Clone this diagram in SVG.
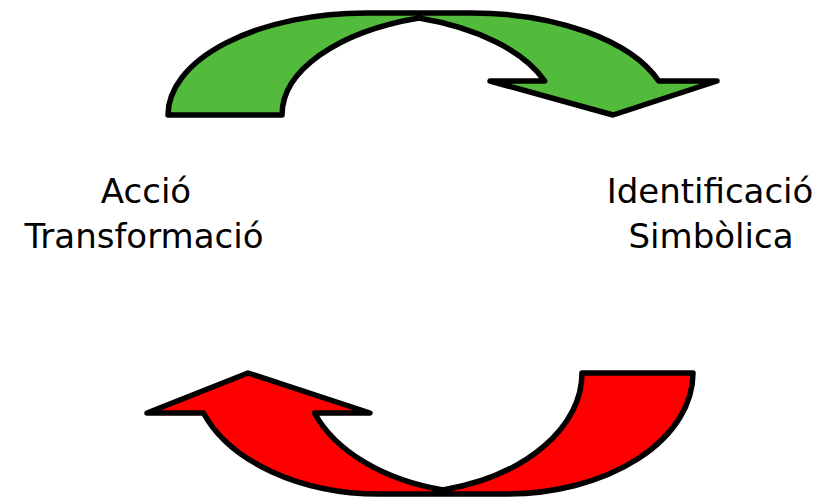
<svg xmlns="http://www.w3.org/2000/svg" width="828" height="499" viewBox="0 0 828 499">
<style>
.arrow{stroke:#000;stroke-width:5.5;stroke-linejoin:round;stroke-linecap:round}
.lbl{font-family:"DejaVu Sans",sans-serif;font-size:34px;fill:#000;text-anchor:middle}
</style>
<rect width="828" height="499" fill="#fff"/>
<g id="connectors">
<path id="green-arrow" class="arrow" fill="#52BB3C" d="M168,115 A198.6,102 0 0 1 366.6,13 L471.4,13 A198.6,102 0 0 1 658.7,81 L717,81 L613,115 L490,81 L544.7,81 A198.6,102 0 0 0 419,18 A198.6,102 0 0 0 282,115 Z"/>
<path id="red-arrow" class="arrow" fill="#FF0000" d="M693,373 A186.6,121 0 0 1 506.4,494 L379.6,494 A186.6,121 0 0 1 203.5,413 L147,413 L248,373 L370,413 L314.5,413 A186.6,121 0 0 0 443,490 A186.6,121 0 0 0 582,373 Z"/>
</g>
<g id="node-accio">
<text class="lbl" x="146" y="203">Acció</text>
<text class="lbl" x="144" y="248">Transformació</text>
</g>
<g id="node-identificacio">
<text class="lbl" x="710" y="203">Identificació</text>
<text class="lbl" x="711" y="248">Simbòlica</text>
</g>
</svg>
